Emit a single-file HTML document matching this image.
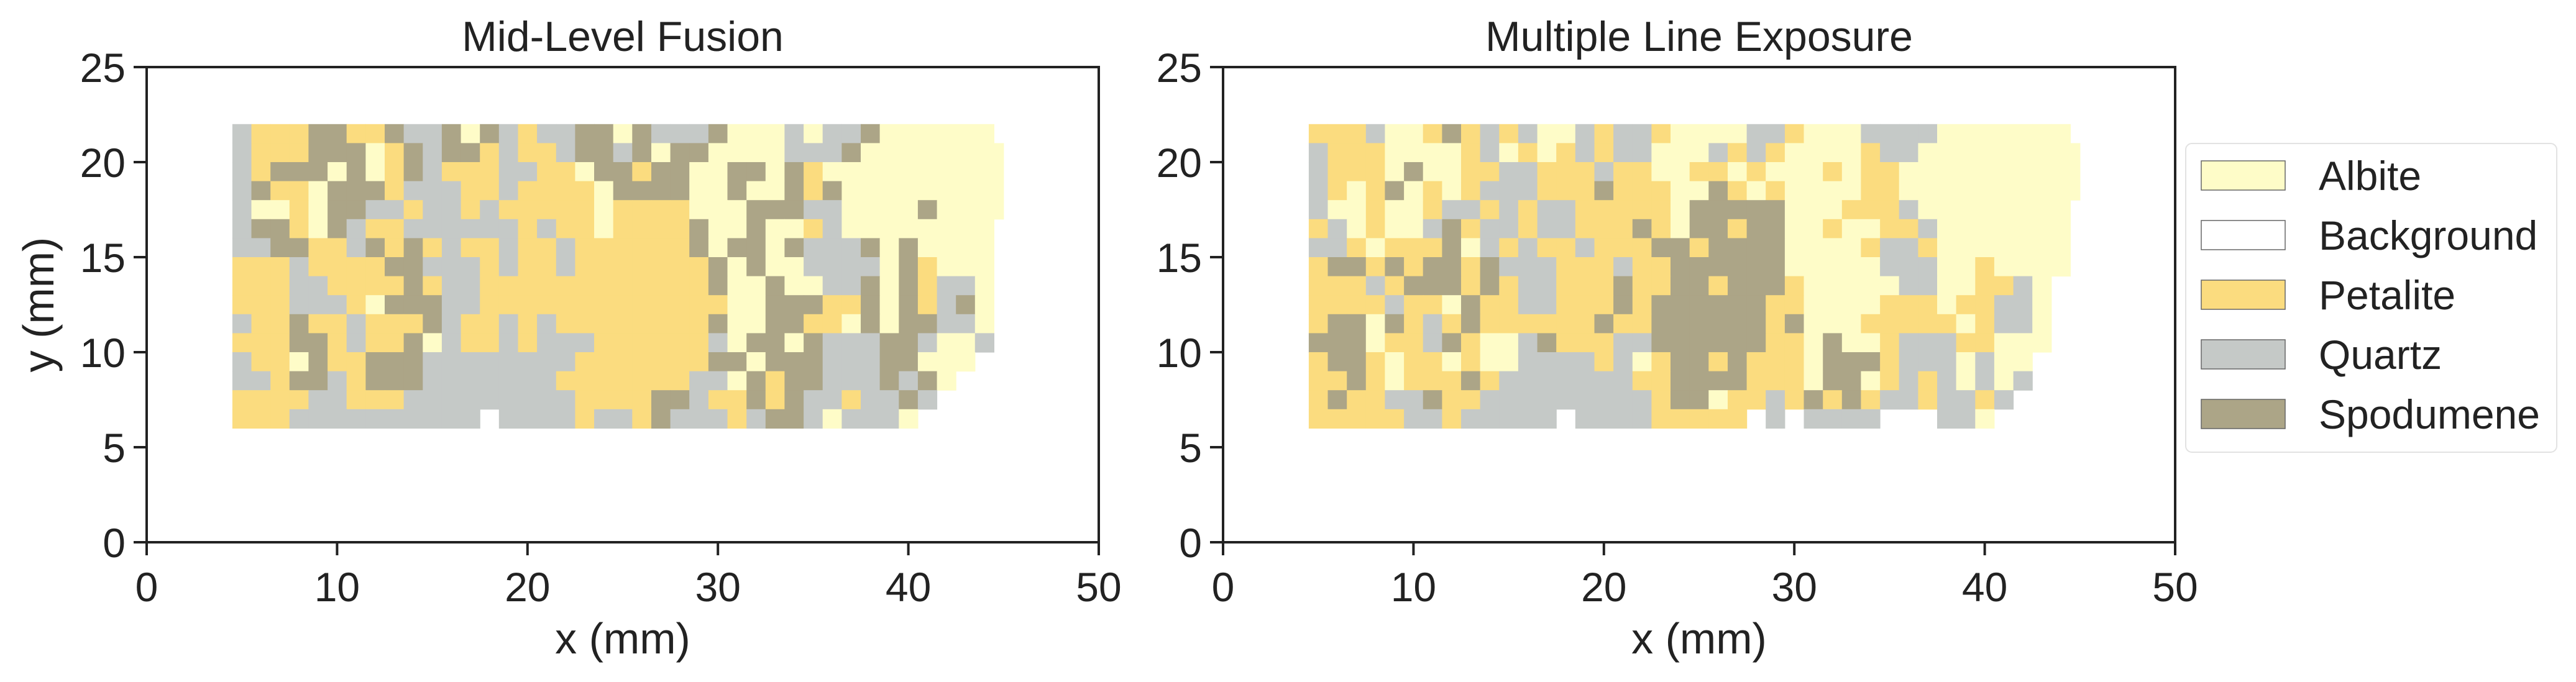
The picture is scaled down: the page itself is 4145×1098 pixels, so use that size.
<!DOCTYPE html>
<html><head><meta charset="utf-8"><style>
html,body{margin:0;padding:0;background:#fff;}
svg{display:block;font-family:"Liberation Sans",sans-serif;}
</style></head><body>
<svg id="fig" width="4145" height="1098" viewBox="0 0 4145 1098" xmlns="http://www.w3.org/2000/svg">
<rect x="0" y="0" width="4145" height="1098" fill="#fff"/>
<g id="p0"></g>
<g id="p1"></g>
<g id="legend"></g>
</svg>
<script>
// Class labels, colours, and per-panel 1mm class grids (rows from y=22 down to y=6, cols from x=4.5)
const classNames = ["Albite","Background","Petalite","Quartz","Spodumene"];
const classCodes = ["A","B","P","Q","S"];
const classColors = ["#FEFCC8","#FFFFFF","#FBDC7F","#C5C9C7","#ACA587"];
const panelTitles = ["Mid-Level Fusion","Multiple Line Exposure"];
const xTicks = [0,10,20,30,40,50];
const yTicks = [0,5,10,15,20,25];
const gridX0 = 4.5, gridY0 = 22, cellMM = 1, gridXMax = 45;
const gridMLF = [
"QPPPSSPPSQQSASQPQQSSASQQQSAAAQAQQSAAAAAAB",
"QPPPSSSAPSQSSPQPPQSSQSASSAAAAQQQSAAAAAAAA",
"QPSSSASAPSQPPPQQPPASSPSSAASSASPAAAAAAAAAA",
"QSPPASSSPQQQPPQPPPPASSSSAASAASPSAAAAAAAAA",
"QAAPASSQQPQQPQPPPPPAPPPPAAASSSQQAAAASAAAA",
"QSSPASQPPQQQQQQPQPPAPPPPSAASAAPQAAAAAAAAB",
"QQSSPPQSPSPQPPQPPQPPPPPPSASSASQQQSASAAAAB",
"PPPQPPPPSSQQQPQPPQPPPPPPPSASAAQQQQASPAAAB",
"PPPQQPPPPSPQQPPPPPPPPPPPPSAASAAQQSASPQQAB",
"PPPQQQPASSSQQPPPPPPPPPPPPPAASSSPPSASPQSAB",
"QPPSPPQPPPSQPPQPQPPPPPPPPSAASSPPASASSQQAB",
"PPPSSPQPPSAQPPQPQQQPPPPPPQASSASQQQSSQAAQB",
"QPPASPPSSSQQQQQQQQPPPPPPPSSASSSQQQSSAAABB",
"QQPSSQPSSSQQQQQQQPPPPPPPQQASPSSQQQSQSABBB",
"PPPPQQPPPQQQQQQQQQPPPPSSQPPSPSQQPQQSQBBBB",
"PPPQQQQQQQQQQBQQQQPQQPSQQQPQSSQAQQQABBBBB"
];
const gridMLE = [
"PPPQAAPSPQPQAAQPQQPAAAAQQPAAAQQQQAAAAAAAB",
"QPPPAAAAPQAPAPQPQQAAAQPQPAAAAPQQAAAAAAAAA",
"QPPPASAAPPQQPPPQPPAAPPAPAAAPAPPAAAAAAAAAA",
"QPAPSAPAPQQQPPPSPPPAASPAPAAAAPPAAAAAAAAAA",
"QAAPAAPQQPQPQQPPPPPASSSSSAAAPPPQAAAAAAAAB",
"PQAPAAQSPQQPQQPPPSPASSPSSAAPAAPPQAAAAAAAB",
"QQPAPPPSAQPQPPQPPPSSPSSSSAAAAPQQPAAAAAAAB",
"PSSPSPSSPSQQQPPPQPPSSSSSSAAAAAQQQAAPAAAAB",
"PPPQPSSSPSPQQPPPSPPSSPSSSPAAAAAQQAAPPQABB",
"PPPPQPPASPPQQPPPSPSSSSSSPPAAAAPPPAPPQQABB",
"PSSASPQPSPPPPPPSPPSSSSSSPSAAAPPPPPAPQQABB",
"SSSAPPQSPAAQSPPPQQSSSSSSPPASAAPQQQPPAAABB",
"PSSPAPPAPAAQQQQPQAPSSPSPPPASSSPQQQAQAABBB",
"PPSPAPPPSPQQQQQQQPPSSSSPPPASSAPQPQAQAQBBB",
"PSPPQQSPPQQQQQQQQQPSSAPPQPSPSPQQPQQPQBBBB",
"PPPPPQQPQQQQQBQQQQPPPPPBQBQQQQBBBQQABBBBB"
];
const panelGrids = [gridMLF, gridMLE];

const NS = "http://www.w3.org/2000/svg";
function mk(tag, attrs, parent){
  const e = document.createElementNS(NS, tag);
  for (const k in attrs) e.setAttribute(k, attrs[k]);
  parent.appendChild(e);
  return e;
}
const AX = [{l:236, r:1768}, {l:1968, r:3500}];
const TOP = 108, BOT = 873;
const XMAX = 50, YMAX = 25;

AX.forEach((ax, pi) => {
  const g = document.getElementById('p'+pi);
  const sx = v => ax.l + (ax.r - ax.l) * v / XMAX;
  const sy = v => BOT - (BOT - TOP) * v / YMAX;
  const grid = panelGrids[pi];
  const cells = mk('g', {}, g);
  
  
  grid.forEach((row, r) => {
    for (let c = 0; c < row.length; c++) {
      const k = classCodes.indexOf(row[c]);
      if (k < 0 || row[c] === 'B') continue;
      const x0 = sx(gridX0 + c * cellMM), x1 = sx(Math.min(gridXMax, gridX0 + (c + 1) * cellMM));
      const y0 = sy(gridY0 - r * cellMM), y1 = sy(gridY0 - (r + 1) * cellMM);
      const rc = mk('rect', {x:x0.toFixed(1), y:y0.toFixed(1), width:(x1-x0+0.6).toFixed(1), height:(y1-y0+0.6).toFixed(1), fill:classColors[k]}, cells);
      
      
    }
  });
  const fr = mk('rect', {x:ax.l, y:TOP, width:ax.r-ax.l, height:BOT-TOP, fill:'none', stroke:'#222', 'stroke-width':4}, g);
  
  
  xTicks.forEach(t => {
    const x = sx(t);
    const tl = mk('line', {x1:x, y1:BOT, x2:x, y2:BOT+21, stroke:'#222', 'stroke-width':4}, g);
    
    
    const tx = mk('text', {x:x, y:968, 'font-size':66, fill:'#222', 'text-anchor':'middle'}, g);
    tx.textContent = t;
    
    
  });
  yTicks.forEach(t => {
    const y = sy(t);
    const tl = mk('line', {x1:ax.l-21, y1:y, x2:ax.l, y2:y, stroke:'#222', 'stroke-width':4}, g);
    
    
    const tx = mk('text', {x:ax.l-34, y:y+24, 'font-size':66, fill:'#222', 'text-anchor':'end'}, g);
    tx.textContent = t;
    
    
  });
  const title = mk('text', {x:(ax.l+ax.r)/2, y:82, 'font-size':68, fill:'#222', 'text-anchor':'middle'}, g);
  title.textContent = panelTitles[pi];
  
  
  const xl = mk('text', {x:(ax.l+ax.r)/2, y:1052, 'font-size':70, fill:'#222', 'text-anchor':'middle'}, g);
  xl.textContent = 'x (mm)';
  
  
  if (pi === 0) {
    const yl = mk('text', {x:0, y:0, 'font-size':70, fill:'#222', 'text-anchor':'middle', transform:'translate(86,'+((TOP+BOT)/2)+') rotate(-90)'}, g);
    yl.textContent = 'y (mm)';
    
    
  }
});

const lg = document.getElementById('legend');
const box = mk('rect', {x:3517, y:231, width:597, height:497, rx:10, fill:'#fff', stroke:'#e2e2e2', 'stroke-width':2}, lg);


classNames.forEach((n, i) => {
  const y = 259 + i * 96;
  const p = mk('rect', {x:3542, y:y, width:135, height:47, fill:classColors[i], stroke:'#666', 'stroke-width':1.5}, lg);
  
  
  const t = mk('text', {x:3731, y:y+47, 'font-size':66, fill:'#222'}, lg);
  t.textContent = n;
  
  
});
</script>
</body></html>
